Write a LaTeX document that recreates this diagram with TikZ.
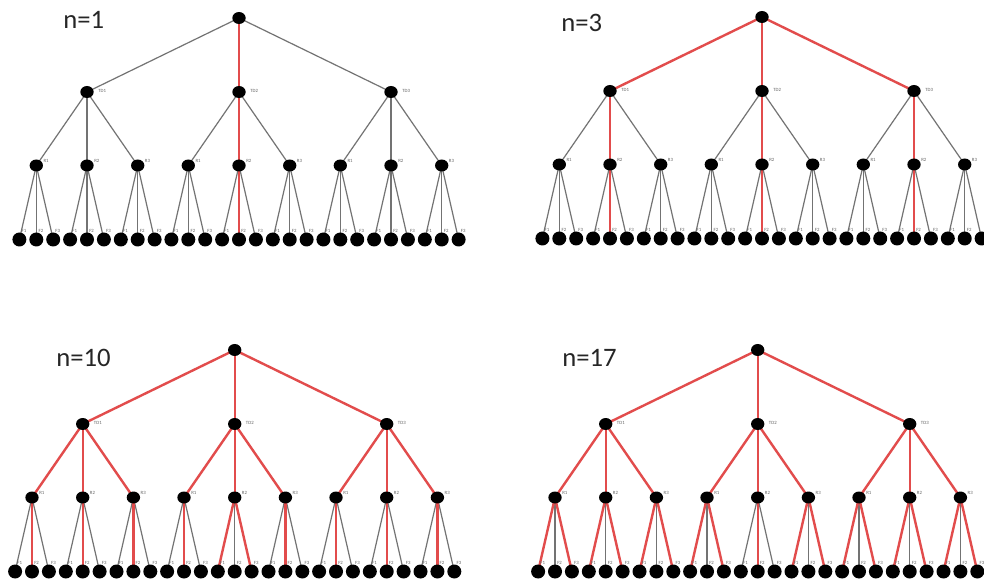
\documentclass[tikz,border=0pt]{standalone}
\usepackage{fontspec}
\setmainfont{Carlito}
\usetikzlibrary{shapes.geometric}
\definecolor{myred}{RGB}{226,76,76}
\pgfdeclarelayer{bgl}
\pgfdeclarelayer{greyl}
\pgfdeclarelayer{redl}
\pgfsetlayers{bgl,greyl,redl,main}
\tikzset{
  vtx/.style={ellipse, fill=black, inner sep=0pt, minimum width=10pt, minimum height=9pt},
  leafn/.style={circle, fill=black, inner sep=0pt, minimum size=10.5pt},
  lab/.style={font=\fontsize{3.6}{4}\selectfont, text=black!60, inner sep=0pt, anchor=west},
  greyedge/.style={draw=black!55, line width=0.9pt},
  rededge/.style={draw=myred, line width=1.8pt},
  titletext/.style={font=\fontsize{20}{22}\selectfont, text=black!85, anchor=west, inner sep=0pt}
}
\newcommand\myedge[3]{%
  \ifnum#3=1
    \begin{pgfonlayer}{redl}\draw[rededge] (#1.center) -- (#2.center);\end{pgfonlayer}%
  \else
    \begin{pgfonlayer}{greyl}\draw[greyedge] (#1.center) -- (#2.center);\end{pgfonlayer}%
  \fi}
% #1 prefix, #2 root x, #3 root y, #4 mode
\newcommand\mytree[4]{%
  \node[vtx] (#1r) at (#2,#3) {};
  \foreach \i in {1,2,3}{%
    \pgfmathsetmacro\tx{#2+(\i-2)*152}%
    \node[vtx] (#1t\i) at (\tx,#3+74) {};
    \node[lab] (#1tl\i) at ([shift={(11,-1)}]#1t\i.center) {TD\i};
    \pgfmathtruncatemacro\rt{or(#4>1,equal(\i,2))}%
    \myedge{#1r}{#1t\i}{\rt}
    \foreach \j in {1,2,3}{%
      \pgfmathsetmacro\rx{\tx+(\j-2)*50.7}%
      \node[vtx] (#1r\i\j) at (\rx,#3+147.5) {};
      \node[lab] (#1rl\i\j) at ([shift={(7,-5)}]#1r\i\j.center) {R\j};
      \pgfmathtruncatemacro\rr{or(#4>2,and(equal(\j,2),or(equal(#4,2),equal(\i,2))))}%
      \myedge{#1t\i}{#1r\i\j}{\rr}
      \pgfmathtruncatemacro\cen{and(equal(\i,2),equal(\j,2))}%
      \foreach \k in {1,2,3}{%
        \pgfmathsetmacro\fx{\rx+(\k-2)*16.9}%
        \node[leafn] (#1f\i\j\k) at (\fx,#3+221.5) {};
        \node[lab] (#1fl\i\j\k) at ([shift={(2,-9)}]#1f\i\j\k.center) {F\k};
        \pgfmathtruncatemacro\km{equal(\k,2)}%
        \ifcase#4\relax
        \or \pgfmathtruncatemacro\rf{and(\cen,\km)}%
        \or \pgfmathtruncatemacro\rf{and(equal(\j,2),\km)}%
        \or \pgfmathtruncatemacro\rf{notequal(\cen,\km)}%
        \or \pgfmathtruncatemacro\rf{equal(\cen,\km)}%
        \fi
        \myedge{#1r\i\j}{#1f\i\j\k}{\rf}
      }%
    }%
  }%
}
\begin{document}
\begin{tikzpicture}[x=0.75pt,y=-0.75pt]
  \useasboundingbox (0,0) rectangle (984,580);
  \begin{pgfonlayer}{bgl}\fill[white] (0,0) rectangle (984,580);\end{pgfonlayer}
  \node[titletext] (n1) at (63,20) {n=1};
  \node[titletext] (n3) at (561,23) {n=3};
  \node[titletext] (n10) at (56,358) {n=10};
  \node[titletext] (n17) at (562,358) {n=17};
  \mytree{a}{239}{18}{1}
  \mytree{b}{762}{17}{2}
  \mytree{c}{234.7}{350}{3}
  \mytree{d}{757.7}{350}{4}
\end{tikzpicture}
\end{document}
